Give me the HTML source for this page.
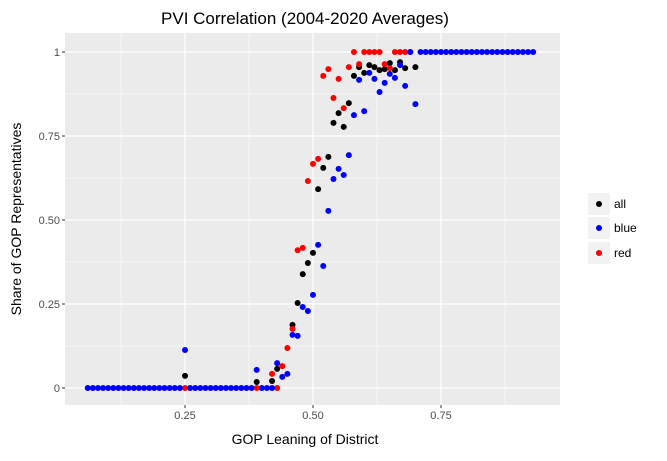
<!DOCTYPE html>
<html><head><meta charset="utf-8"><style>
body{margin:0;background:#fff;font-family:"Liberation Sans",sans-serif;}
</style></head><body>
<svg id="chart" width="667" height="456" xmlns="http://www.w3.org/2000/svg">
<text x="305" y="24" font-size="17" text-anchor="middle">PVI Correlation (2004-2020 Averages)</text>
<rect x="65" y="33" width="495" height="372" fill="#EBEBEB"/>
<g id="grid"></g>
<g id="ticks"></g>
<g id="points"></g>
<text x="305" y="444" font-size="14" text-anchor="middle">GOP Leaning of District</text>
<text transform="translate(21,219) rotate(-90)" font-size="14" text-anchor="middle">Share of GOP Representatives</text>
<g font-size="12">
<rect x="588" y="193" width="22" height="22" fill="#F2F2F2"/>
<circle cx="599" cy="204" r="3" fill="#000"/>
<text x="614" y="208">all</text>
<rect x="588" y="217" width="22" height="22" fill="#F2F2F2"/>
<circle cx="599" cy="228" r="3" fill="#00F"/>
<text x="614" y="232">blue</text>
<rect x="588" y="242" width="22" height="22" fill="#F2F2F2"/>
<circle cx="599" cy="253" r="3" fill="#F00"/>
<text x="614" y="257">red</text>
</g>
</svg>
<script>
const xTicks=[0.25,0.5,0.75];
const xTickLabels=["0.25","0.50","0.75"];
const yTicks=[0,0.25,0.5,0.75,1];
const yTickLabels=["0","0.25","0.50","0.75","1"];
const allX=[0.25,0.39,0.42,0.43,0.46,0.47,0.48,0.49,0.50,0.51,0.52,0.53,0.54,0.55,0.56,0.57,0.58,0.59,0.60,0.61,0.62,0.63,0.64,0.65,0.66,0.67,0.68,0.70];
const allY=[0.036,0.018,0.021,0.057,0.188,0.253,0.339,0.372,0.402,0.592,0.655,0.688,0.789,0.818,0.777,0.848,0.929,0.955,0.938,0.961,0.955,0.946,0.949,0.967,0.946,0.970,0.952,0.955];
const blueX=[0.06,0.07,0.08,0.09,0.10,0.11,0.12,0.13,0.14,0.15,0.16,0.17,0.18,0.19,0.20,0.21,0.22,0.23,0.24,0.26,0.27,0.28,0.29,0.30,0.31,0.32,0.33,0.34,0.35,0.36,0.37,0.38,0.40,0.41,0.42,
0.25,0.39,0.43,0.44,0.45,0.46,0.47,0.48,0.49,0.50,0.51,0.52,0.53,0.54,0.55,0.56,0.57,0.58,0.59,0.60,0.61,0.62,0.63,0.64,0.65,0.66,0.67,0.68,0.70,
0.69,0.71,0.72,0.73,0.74,0.75,0.76,0.77,0.78,0.79,0.80,0.81,0.82,0.83,0.84,0.85,0.86,0.87,0.88,0.89,0.90,0.91,0.92,0.93];
const blueY=[0,0,0,0,0,0,0,0,0,0,0,0,0,0,0,0,0,0,0,0,0,0,0,0,0,0,0,0,0,0,0,0,0,0,0,
0.113,0.054,0.074,0.033,0.042,0.158,0.155,0.241,0.229,0.277,0.426,0.363,0.527,0.622,0.652,0.634,0.693,0.812,0.917,0.824,0.938,0.920,0.881,0.908,0.935,0.923,0.961,0.899,0.845,
1,1,1,1,1,1,1,1,1,1,1,1,1,1,1,1,1,1,1,1,1,1,1,1];
const redX=[0.25,0.39,0.43,0.42,0.44,0.45,0.46,0.47,0.48,0.49,0.50,0.51,0.52,0.53,0.54,0.55,0.56,0.57,0.59,0.64,0.65,0.58,0.60,0.61,0.62,0.63,0.66,0.67,0.68,0.69];
const redY=[0,0,0,0.042,0.065,0.119,0.176,0.41,0.417,0.616,0.667,0.682,0.929,0.949,0.863,0.92,0.833,0.955,0.964,0.964,0.952,1,1,1,1,1,1,1,1,1];

const NS="http://www.w3.org/2000/svg";
const L=65,R=560,T=33,B=405;
const sx=v=>57+v*512;
const sy=v=>388-v*336;
const grid=document.getElementById('grid');
function line(x1,y1,x2,y2,w,name){
  const l=document.createElementNS(NS,'line');
  l.setAttribute('x1',x1);l.setAttribute('y1',y1);l.setAttribute('x2',x2);l.setAttribute('y2',y2);
  l.setAttribute('stroke','#fff');l.setAttribute('stroke-width',w);
  
  
  grid.appendChild(l);
}
[0.125,0.375,0.625,0.875].forEach(v=>line(sx(v),T,sx(v),B,0.6,'x-minor-gridline'));
[0.125,0.375,0.625,0.875].forEach(v=>line(L,sy(v),R,sy(v),0.6,'y-minor-gridline'));
xTicks.forEach(v=>line(sx(v),T,sx(v),B,1.2,'x-major-gridline'));
yTicks.forEach(v=>line(L,sy(v),R,sy(v),1.2,'y-major-gridline'));
const tk=document.getElementById('ticks');
function txt(x,y,s,anchor,name){
  const t=document.createElementNS(NS,'text');
  t.setAttribute('x',x);t.setAttribute('y',y);t.setAttribute('font-size','11');
  t.setAttribute('fill','#4D4D4D');t.setAttribute('text-anchor',anchor);
  t.textContent=s;
  
  
  tk.appendChild(t);
}
function tmark(x1,y1,x2,y2){
  const l=document.createElementNS(NS,'line');
  l.setAttribute('x1',x1);l.setAttribute('y1',y1);l.setAttribute('x2',x2);l.setAttribute('y2',y2);
  l.setAttribute('stroke','#333');l.setAttribute('stroke-width','1');
  
  
  tk.appendChild(l);
}
xTicks.forEach((v,i)=>{tmark(sx(v),B,sx(v),B+3);txt(sx(v),B+14,xTickLabels[i],'middle','x-tick-label');});
yTicks.forEach((v,i)=>{tmark(L-3,sy(v),L,sy(v));txt(L-5,sy(v)+4,yTickLabels[i],'end','y-tick-label');});
const pts=document.getElementById('points');
function series(xs,ys,color,name){
  xs.forEach((x,i)=>{
    const c=document.createElementNS(NS,'circle');
    c.setAttribute('cx',sx(x));c.setAttribute('cy',sy(ys[i]));c.setAttribute('r','3');
    c.setAttribute('fill',color);
    
    
    pts.appendChild(c);
  });
}
series(allX,allY,'#000','point-all');
series(redX,redY,'#F00','point-red');
series(blueX,blueY,'#00F','point-blue');
</script>
</body></html>
